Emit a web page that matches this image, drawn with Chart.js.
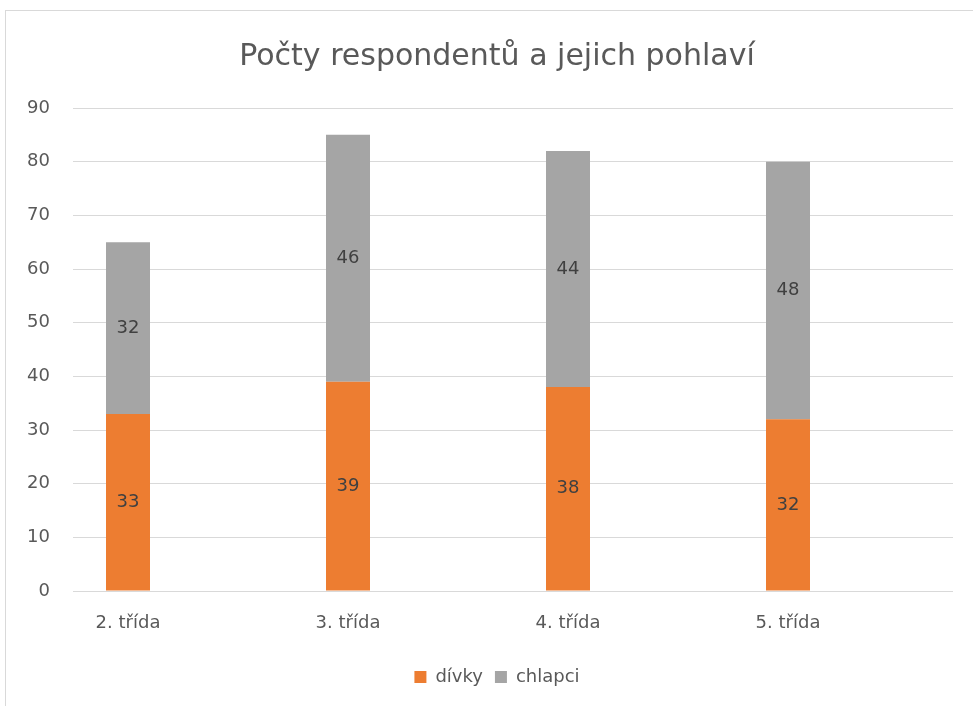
<!DOCTYPE html>
<html><head><meta charset="utf-8">
<script src="https://cdn.jsdelivr.net/npm/chart.js@4/dist/chart.umd.min.js"></script>
<style>
html,body{margin:0;padding:0;background:#fff;overflow:hidden}
#wrap{position:relative;width:973px;height:706px}
#frame{position:absolute;left:5px;top:10px;width:1000px;height:800px;border:1px solid #d9d9d9;pointer-events:none}
canvas{position:absolute;left:0;top:0}
</style></head><body>
<div id="wrap"><canvas id="c" width="973" height="706"></canvas><div id="frame"></div></div>
<script>
const chartTitle = 'Počty respondentů a jejich pohlaví';
const categories = ['2. třída', '3. třída', '4. třída', '5. třída'];
const seriesNames = ['dívky', 'chlapci'];
const divky = [33, 39, 38, 32];
const chlapci = [32, 46, 44, 48];
const yMin = 0, yMax = 90, yStep = 10;

const FONT = "'DejaVu Sans', sans-serif";
const TXT = '#595959';

const dataLabels = {
  id: 'dataLabels',
  afterDatasetsDraw(chart) {
    const ctx = chart.ctx;
    ctx.save();
    ctx.font = "18px " + FONT;
    ctx.fillStyle = '#404040';
    ctx.textAlign = 'center';
    ctx.textBaseline = 'middle';
    chart.data.datasets.forEach((ds, di) => {
      const meta = chart.getDatasetMeta(di);
      meta.data.forEach((el, i) => {
        const p = el.getProps(['x', 'y', 'base'], true);
        ctx.fillText(String(ds.data[i].y), p.x, (p.y + p.base) / 2);
      });
    });
    ctx.restore();
  }
};

new Chart(document.getElementById('c'), {
  type: 'bar',
  data: {
    datasets: [
      { label: seriesNames[0], data: divky.map((v, i) => ({ x: i, y: v })), backgroundColor: '#ED7D31' },
      { label: seriesNames[1], data: chlapci.map((v, i) => ({ x: i, y: v })), backgroundColor: '#A5A5A5' }
    ]
  },
  options: {
    responsive: false,
    animation: false,
    categoryPercentage: 0.2,
    barPercentage: 1,
    layout: { padding: { left: 21, right: 0, top: 0, bottom: 10 } },
    plugins: {
      tooltip: { enabled: false },
      title: {
        display: true, text: chartTitle, color: TXT,
        font: { family: FONT, size: 30, weight: 'normal' },
        padding: { top: 39, bottom: 33 }
      },
      legend: {
        position: 'bottom',
        labels: {
          color: TXT, font: { family: FONT, size: 18 },
          boxWidth: 12, boxHeight: 12, padding: 12
        }
      }
    },
    scales: {
      x: {
        type: 'linear', min: -0.25, max: 3.75, stacked: true, offset: false,
        grid: { display: false }, border: { display: false },
        afterBuildTicks: s => { s.ticks = categories.map((_, i) => ({ value: i })); },
        ticks: {
          callback: v => categories[v] ?? '',
          color: TXT, font: { family: FONT, size: 18 },
          padding: 14, autoSkip: false, maxRotation: 0
        },
        afterFit: s => { s.height = 65; }
      },
      y: {
        stacked: true, min: yMin, max: yMax,
        grid: { color: '#D9D9D9', lineWidth: 1, drawTicks: false },
        border: { display: false },
        ticks: { stepSize: yStep, color: TXT, font: { family: FONT, size: 18 }, padding: 23 },
        afterFit: s => { s.width = 52; }
      },
      yRight: {
        position: 'right', display: true,
        grid: { display: false, drawTicks: false }, border: { display: false },
        ticks: { display: false },
        afterFit: s => { s.width = 20; }
      }
    }
  },
  plugins: [dataLabels]
});
</script>
</body></html>
